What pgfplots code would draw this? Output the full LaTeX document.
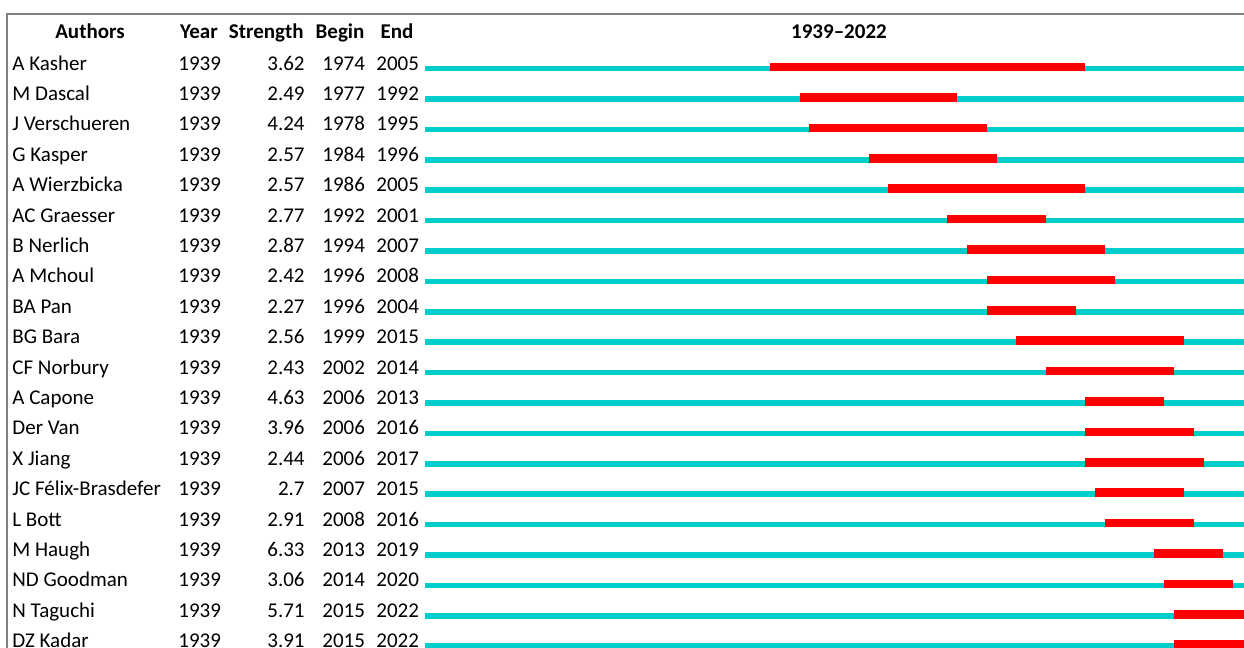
\documentclass[border=0pt]{standalone}
\usepackage{pgfplots}
\pgfplotsset{compat=1.18}
\usepackage{pgfplotstable}
\usepackage{fontspec}
\setmainfont{Carlito}
\definecolor{burstcyan}{RGB}{0,204,204}
\definecolor{burstred}{RGB}{255,0,0}
\definecolor{framegray}{RGB}{128,128,128}

\pgfplotstableread[col sep=comma]{
row,author,year,strength,begin,end
1,A Kasher,1939,3.62,1974,2005
2,M Dascal,1939,2.49,1977,1992
3,J Verschueren,1939,4.24,1978,1995
4,G Kasper,1939,2.57,1984,1996
5,A Wierzbicka,1939,2.57,1986,2005
6,AC Graesser,1939,2.77,1992,2001
7,B Nerlich,1939,2.87,1994,2007
8,A Mchoul,1939,2.42,1996,2008
9,BA Pan,1939,2.27,1996,2004
10,BG Bara,1939,2.56,1999,2015
11,CF Norbury,1939,2.43,2002,2014
12,A Capone,1939,4.63,2006,2013
13,Der Van,1939,3.96,2006,2016
14,X Jiang,1939,2.44,2006,2017
15,JC Félix-Brasdefer,1939,2.7,2007,2015
16,L Bott,1939,2.91,2008,2016
17,M Haugh,1939,6.33,2013,2019
18,ND Goodman,1939,3.06,2014,2020
19,N Taguchi,1939,5.71,2015,2022
20,DZ Kadar,1939,3.91,2015,2022
}\bursts

\newcommand{\tabfont}{\fontsize{10.5}{12}\selectfont}

\begin{document}
\begin{tikzpicture}
\begin{axis}[
  scale only axis, width=622pt, height=324pt,
  xmin=-43.117, xmax=83.09, ymin=0, ymax=648, y dir=reverse,
  hide axis, clip=true,
]
% frame
\addplot[framegray, line width=1pt, mark=none] coordinates {(-42.4,660) (-42.4,14) (90,14)};

% full timeline (cyan)
\addplot[draw=none, mark=none,
  error bars/.cd, x dir=plus, x explicit, error mark=none,
  error bar style={draw=burstcyan, line width=2.75pt, line cap=butt, solid}]
  table[x expr=0, y expr=38.2+30.4*\thisrow{row}, x error expr=84] {\bursts};

% bursts (red)
\addplot[draw=none, mark=none,
  error bars/.cd, x dir=plus, x explicit, error mark=none,
  error bar style={draw=burstred, line width=4.25pt, line cap=butt, solid}]
  table[x expr=\thisrow{begin}-1939, y expr=36.7+30.4*\thisrow{row}, x error expr=\thisrow{end}+1-\thisrow{begin}] {\bursts};

% text columns
\addplot[draw=none, mark=none, nodes near coords, point meta=explicit symbolic,
  nodes near coords style={anchor=base west, inner sep=0pt, font=\tabfont, text=black}]
  table[x expr=-41.9, y expr=39.6+30.4*\thisrow{row}, meta=author] {\bursts};
\addplot[draw=none, mark=none, nodes near coords, point meta=explicit symbolic,
  nodes near coords style={anchor=base west, inner sep=0pt, font=\tabfont, text=black}]
  table[x expr=-25.06, y expr=39.6+30.4*\thisrow{row}, meta=year] {\bursts};
\addplot[draw=none, mark=none, nodes near coords, point meta=explicit symbolic,
  nodes near coords style={anchor=base east, inner sep=0pt, font=\tabfont, text=black}]
  table[x expr=-12.17, y expr=39.6+30.4*\thisrow{row}, meta=strength] {\bursts};
\addplot[draw=none, mark=none, nodes near coords, point meta=explicit symbolic,
  nodes near coords style={anchor=base west, inner sep=0pt, font=\tabfont, text=black}]
  table[x expr=-10.45, y expr=39.6+30.4*\thisrow{row}, meta=begin] {\bursts};
\addplot[draw=none, mark=none, nodes near coords, point meta=explicit symbolic,
  nodes near coords style={anchor=base west, inner sep=0pt, font=\tabfont, text=black}]
  table[x expr=-4.97, y expr=39.6+30.4*\thisrow{row}, meta=end] {\bursts};

% headers
\node[anchor=base, inner sep=0pt, font=\tabfont\bfseries] at (axis cs:-33.99,39) {Authors};
\node[anchor=base, inner sep=0pt, font=\tabfont\bfseries] at (axis cs:-22.93,39) {Year};
\node[anchor=base east, inner sep=0pt, font=\tabfont\bfseries] at (axis cs:-12.28,39) {Strength};
\node[anchor=base, inner sep=0pt, font=\tabfont\bfseries] at (axis cs:-8.62,39) {Begin};
\node[anchor=base, inner sep=0pt, font=\tabfont\bfseries] at (axis cs:-2.84,39) {End};
\node[anchor=base, inner sep=0pt, font=\tabfont\bfseries] at (axis cs:42.0,39) {1939--2022};
\end{axis}
\pgfresetboundingbox
\useasboundingbox (current axis.south west) rectangle (current axis.north east);
\end{tikzpicture}
\end{document}
